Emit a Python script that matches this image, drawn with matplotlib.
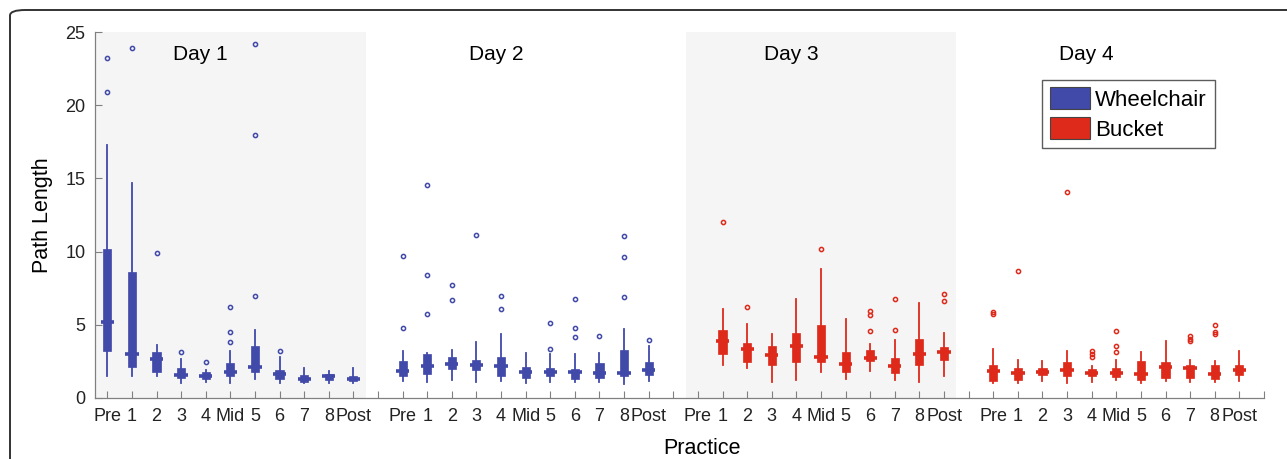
import matplotlib
matplotlib.use('Agg')
import matplotlib.pyplot as plt
from matplotlib.patches import FancyBboxPatch, Patch
import numpy as np

plt.rcParams['font.family'] = ['Liberation Sans', 'DejaVu Sans']

# Practice labels within each day
practice = ['Pre', '1', '2', '3', '4', 'Mid', '5', '6', '7', '8', 'Post']
days = ['Day 1', 'Day 2', 'Day 3', 'Day 4']
day_device = ['Wheelchair', 'Wheelchair', 'Bucket', 'Bucket']

# Box statistics: (q1, median, q3, whisker low, whisker high)
day1_box = [(3.19, 5.21, 10.2, 1.52, 17.3), (2.11, 3.0, 8.63, 1.52, 14.67),
            (1.79, 2.64, 3.15, 1.47, 3.65), (1.35, 1.58, 2.04, 1.01, 2.69),
            (1.29, 1.49, 1.77, 1.06, 1.93), (1.52, 1.79, 2.39, 1.01, 3.24),
            (1.75, 2.09, 3.54, 1.31, 4.61), (1.31, 1.63, 1.93, 1.01, 2.8),
            (1.08, 1.31, 1.58, 1.01, 2.04), (1.24, 1.47, 1.65, 1.01, 1.86),
            (1.17, 1.31, 1.52, 1.01, 2.04)]
day1_out = [[23.2, 20.9], [23.9], [9.92], [3.15], [2.45], [6.22, 4.5, 3.79],
            [24.17, 18.0, 6.98], [3.24], [], [], []]

day2_box = [(1.52, 1.86, 2.5, 1.17, 3.24), (1.65, 2.16, 3.01, 1.06, 3.08),
            (2.0, 2.34, 2.8, 1.24, 3.26), (1.88, 2.25, 2.62, 1.08, 3.79),
            (1.52, 2.16, 2.78, 1.17, 4.38), (1.35, 1.75, 2.11, 1.01, 3.08),
            (1.47, 1.75, 2.07, 1.08, 3.03), (1.31, 1.79, 2.0, 1.08, 3.01),
            (1.35, 1.70, 2.39, 1.08, 3.08), (1.52, 1.70, 3.31, 0.96, 4.68),
            (1.58, 1.93, 2.43, 1.17, 3.54)]
day2_out = [[9.69, 4.8], [14.55, 8.43, 5.74], [7.71, 6.68], [11.13], [7.0, 6.06],
            [], [5.14, 3.37], [6.75, 4.75, 4.15], [4.22], [11.07, 9.66, 6.91], [3.95]]

# Day 3 has no Pre trial
day3_box = [None, (3.03, 3.9, 4.61, 2.27, 6.1), (2.43, 3.35, 3.77, 2.04, 5.07),
            (2.27, 2.96, 3.58, 1.06, 4.34), (2.48, 3.54, 4.41, 1.24, 6.75),
            (2.43, 2.8, 4.96, 1.77, 8.82), (1.77, 2.34, 3.17, 1.31, 5.37),
            (2.5, 2.75, 3.26, 1.81, 3.72), (1.70, 2.2, 2.75, 1.24, 3.99),
            (2.27, 3.03, 4.06, 1.08, 6.47), (2.62, 3.17, 3.47, 1.47, 4.45)]
day3_out = [[], [12.05], [6.22], [], [], [10.15], [], [5.97, 5.65, 4.55],
            [6.75, 4.61], [], [7.07, 6.61]]

day4_box = [(1.17, 1.81, 2.27, 1.01, 3.37), (1.24, 1.70, 2.04, 1.01, 2.62),
            (1.54, 1.75, 2.04, 1.13, 2.55), (1.52, 1.93, 2.43, 1.01, 3.24),
            (1.47, 1.70, 2.0, 1.08, 2.16), (1.42, 1.70, 2.07, 1.24, 2.62),
            (1.24, 1.65, 2.5, 1.01, 3.12), (1.35, 2.09, 2.46, 1.13, 3.88),
            (1.35, 2.04, 2.23, 1.06, 2.57), (1.31, 1.63, 2.27, 1.06, 2.5),
            (1.54, 1.88, 2.27, 1.13, 3.19)]
day4_out = [[5.9, 5.76], [8.7], [], [14.1], [3.24, 3.01, 2.78], [4.57, 3.54, 3.15],
            [], [], [4.22, 4.06, 3.88], [4.96, 4.52, 4.4], []]

all_box = [day1_box, day2_box, day3_box, day4_box]
all_out = [day1_out, day2_out, day3_out, day4_out]

colors = {'Wheelchair': '#4149A9', 'Bucket': '#DD2A1B'}

fig = plt.figure(figsize=(12.87, 4.59), dpi=100)
ax = fig.add_axes([0.0738, 0.133, 0.9083, 0.797])

# rounded panel frame, running off the right/bottom edges
frame = FancyBboxPatch((10 / 1287, -0.1), 1.2, 1 - 10 / 459 + 0.1,
                       boxstyle='round,pad=0,rounding_size=0.012',
                       transform=fig.transFigure, fill=False,
                       edgecolor='#333333', linewidth=1.4, zorder=0)
fig.patches.append(frame)

n = len(practice) + 1  # one empty slot between days
tick_pos, tick_lab = [], []
for d in range(4):
    start = d * n + 1
    col = colors[day_device[d]]
    if d % 2 == 0:
        ax.axvspan(start - 0.5, start + len(practice) - 0.5, color='#F5F5F5', zorder=0, lw=0)
    stats, pos = [], []
    for i, b in enumerate(all_box[d]):
        if b is None:
            continue
        q1, med, q3, lo, hi = b
        stats.append(dict(q1=q1, med=med, q3=q3, whislo=lo, whishi=hi,
                          fliers=all_out[d][i]))
        pos.append(start + i)
    bp = ax.bxp(stats, positions=pos, widths=0.33, patch_artist=True,
                showcaps=False, manage_ticks=False,
                boxprops=dict(facecolor=col, edgecolor=col, linewidth=0.5),
                whiskerprops=dict(color=col, linewidth=1.3),
                medianprops=dict(color=col, linewidth=2.6),
                flierprops=dict(marker='o', markersize=3.0, markerfacecolor='none',
                                markeredgecolor=col, markeredgewidth=1.1))
    for line in bp['medians']:
        xd = line.get_xdata()
        c = (xd[0] + xd[1]) / 2
        line.set_xdata([c - 0.27, c + 0.27])
    tick_pos += list(range(start, start + n))
    tick_lab += practice + ['']
    ax.text(start + 3.8, 23.5, days[d], fontsize=15, ha='center', va='center')

ax.set_xlim(0.5, 47.5)
ax.set_ylim(0, 25)
ax.set_xticks(tick_pos)
ax.set_xticklabels(tick_lab)
ax.set_yticks([0, 5, 10, 15, 20, 25])
ax.tick_params(direction='in', length=5, width=0.8, color='#808080',
               labelsize=13, labelcolor='#222222')
ax.tick_params(axis='x', pad=7)
ax.tick_params(axis='y', pad=7)
for s in ['top', 'right']:
    ax.spines[s].set_visible(False)
for s in ['left', 'bottom']:
    ax.spines[s].set_color('#808080')
    ax.spines[s].set_linewidth(0.9)

ax.set_ylabel('Path Length', fontsize=15.5, labelpad=9)
fig.text(702 / 1287, 1 - 449 / 459, 'Practice', fontsize=15.5, ha='center', va='center')

handles = [Patch(facecolor=colors['Wheelchair'], edgecolor='#444444', linewidth=0.8, label='Wheelchair'),
           Patch(facecolor=colors['Bucket'], edgecolor='#444444', linewidth=0.8, label='Bucket')]
leg = ax.legend(handles=handles, loc='upper left', bbox_to_anchor=(0.81, 0.87),
                fontsize=16, frameon=True, fancybox=False, handlelength=1.8,
                handleheight=1.1, handletextpad=0.25, borderpad=0.35,
                labelspacing=0.3, borderaxespad=0)
leg.get_frame().set_edgecolor('#333333')
leg.get_frame().set_linewidth(1.0)

fig.savefig('out.png', dpi=100)
